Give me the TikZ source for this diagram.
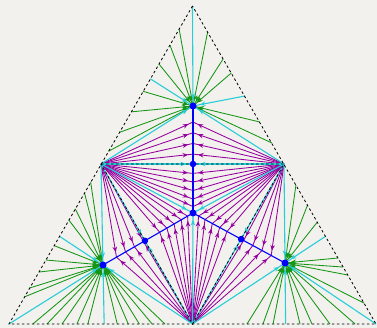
\documentclass[tikz,border=0pt]{standalone}
\usetikzlibrary{arrows.meta,decorations.markings,calc}
\definecolor{bg}{RGB}{242,241,237}
\definecolor{fgreen}{RGB}{20,150,20}
\definecolor{fpurple}{RGB}{150,0,160}
\definecolor{fcyan}{RGB}{40,205,215}
\definecolor{fblue}{RGB}{0,0,255}
\tikzset{
 gflow/.style={fgreen, line width=0.85pt, postaction={decorate},
   decoration={markings, mark=at position -5pt with {\arrow{Stealth[length=6pt,width=5pt]}}}},
 pflow/.style={fpurple, line width=0.85pt, postaction={decorate},
   decoration={markings, mark=at position -5pt with {\arrow{Stealth[length=5.5pt,width=4.5pt]}}}},
 cflow/.style={fcyan, line width=1.1pt, postaction={decorate},
   decoration={markings, mark=at position -7pt with {\arrow{Stealth[length=5.5pt,width=4.5pt]}}}},
 bline/.style={fblue, line width=1.1pt},
 dot/.style={circle, fill=fblue, inner sep=0pt, minimum size=7pt},
 smalldot/.style={circle, fill=fblue, inner sep=0pt, minimum size=6.5pt},
 edgedash/.style={black, line width=0.8pt, dash pattern=on 2.5pt off 2.5pt},
}
\begin{document}
\begin{tikzpicture}[x=1pt,y=-1pt]
\fill[bg] (0,0) rectangle (377,328);
\useasboundingbox (0,0) rectangle (377,328);
% main points
\coordinate (A) at (192.5,6);
\coordinate (B) at (9,324);
\coordinate (C) at (376,324);
\coordinate (L) at (101,164);
\coordinate (R) at (284,164);
\coordinate (M) at (192.5,324);
\coordinate (T) at (193,106);
\coordinate (O) at (193,213);
\coordinate (DB) at (103,265);
\coordinate (DC) at (285,263);
\coordinate (ET) at (intersection of T--O and L--R);
\coordinate (EL) at (intersection of DB--O and L--M);
\coordinate (ER) at (intersection of DC--O and R--M);
% cyan boundary points on outer edges
\coordinate (TL) at (intersection of R--T and A--L);
\coordinate (TR) at (245,96);
\coordinate (BL) at (intersection of M--DB and A--B);
\coordinate (BB) at (intersection of L--DB and B--C);
\coordinate (CR) at (intersection of M--DC and A--C);
\coordinate (CB) at (intersection of R--DC and B--C);

% green fans
\foreach \f in {0.146,0.247,0.367,0.54,0.67,0.80,0.92}
  \draw[gflow] ($(A)!\f!(L)$) -- (T);
\foreach \f in {0.165,0.335,0.424,0.734,0.867}
  \draw[gflow] ($(A)!\f!(R)$) -- (T);
\foreach \f in {0.1125,0.18,0.28,0.35,0.51,0.6,0.675,0.775,0.83}
  \draw[gflow] ($(L)!\f!(B)$) -- (DB);
\foreach \f in {0.13,0.207,0.289,0.37,0.43,0.59,0.65,0.71,0.78,0.85}
  \draw[gflow] ($(B)!\f!(M)$) -- (DB);
\foreach \f in {0.13,0.256,0.3625,0.5875,0.644,0.694,0.869}
  \draw[gflow] ($(R)!\f!(C)$) -- (DC);
\foreach \f in {0.297,0.384,0.439,0.586,0.651,0.749,0.886}
  \draw[gflow] ($(M)!\f!(C)$) -- (DC);

% purple fans
\foreach \t in {0.15,0.25,0.35,0.45,0.63,0.71,0.79,0.87,0.94} {
  \draw[pflow] (L) -- ($(T)!\t!(O)$);
  \draw[pflow] (R) -- ($(T)!\t!(O)$);
  \draw[pflow] (L) -- ($(DB)!\t!(O)$);
  \draw[pflow] (M) -- ($(DB)!\t!(O)$);
  \draw[pflow] (R) -- ($(DC)!\t!(O)$);
  \draw[pflow] (M) -- ($(DC)!\t!(O)$);
}

% cyan separatrices
\foreach \p/\q in {A/T,TL/T,TR/T,L/T,R/T,L/O,R/O,M/O,B/DB,L/DB,BB/DB,BL/DB,M/DB,C/DC,R/DC,CB/DC,CR/DC,M/DC,L/ET,R/ET,L/EL,M/EL,R/ER,M/ER}
  \draw[cflow] (\p) -- (\q);

% blue attracting lines
\draw[bline] (T) -- (O);
\draw[bline] (DB) -- (O);
\draw[bline] (DC) -- (O);

% dashed triangles
\draw[edgedash] (A) -- (B) -- (C) -- cycle;
\draw[edgedash] (L) -- (R) -- (M) -- cycle;

% dots
\foreach \n in {T,O,DB,DC}
  \node[dot] (d\n) at (\n) {};
\foreach \n in {ET,EL,ER}
  \node[smalldot] (d\n) at (\n) {};
\end{tikzpicture}
\end{document}
